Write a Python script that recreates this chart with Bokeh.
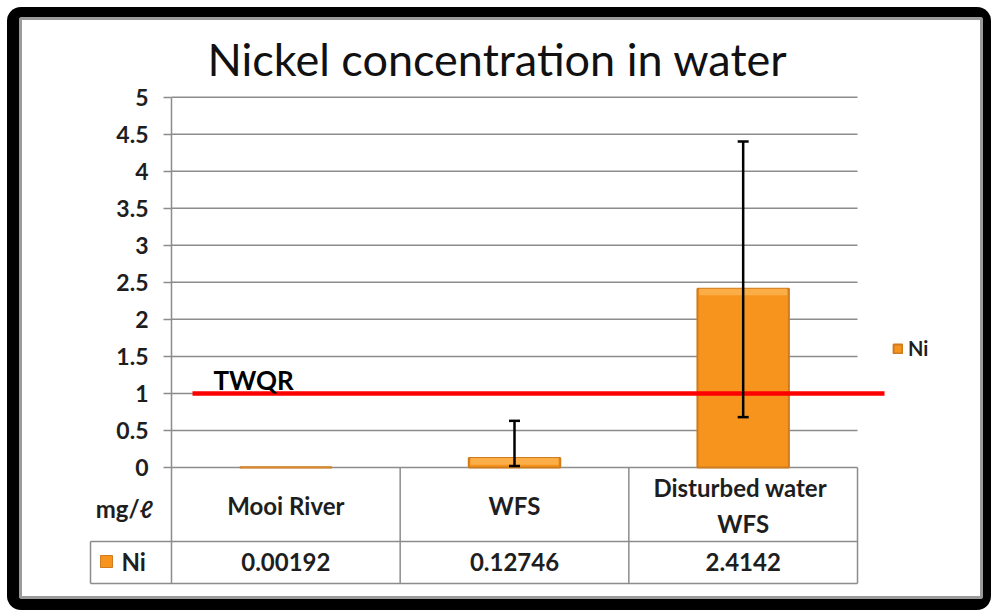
from bokeh.plotting import figure
from bokeh.models import (ColumnDataSource, Range1d, LinearAxis, FixedTicker,
                          Whisker, TeeHead, Legend, LegendItem)
from bokeh.core.properties import value
from bokeh.embed import file_html
from bokeh.resources import INLINE

# ---------------- data ----------------
categories = ["Mooi River", "WFS", "Disturbed  water\nWFS"]
ni_values = [0.00192, 0.12746, 2.4142]
err_upper = [float("nan"), 0.63, 4.40]
err_lower = [float("nan"), 0.02, 0.68]
twqr = 1.0
y_ticks = [0, 0.5, 1, 1.5, 2, 2.5, 3, 3.5, 4, 4.5, 5]
y_tick_labels = ["0", "0.5", "1", "1.5", "2", "2.5", "3", "3.5", "4", "4.5", "5"]
value_labels = ["0.00192", "0.12746", "2.4142"]
series_name = "Ni"
unit_label = "mg/ℓ"
title_text = "Nickel concentration in water"

# ---------------- layout helpers (page px -> data) ----------------
X0, XS = 171.0, 228.67   # page x of category 0 edge, px per category
Y0, YS = 467.0, 74.07    # page y of value 0, px per unit

def dx(px):
    return (px - X0) / XS

def dy(py):
    return (Y0 - py) / YS

FONT = "Lato"
GRAY = "#8c8c8c"
TXT = "#1e1e1e"
BAR = "#F7941D"
BAR_TOP = "#FBAE48"
BAR_EDGE = "#D07C1E"

p = figure(width=993, height=610, output_backend="svg", toolbar_location=None,
           x_axis_type=None, y_axis_type=None,
           x_range=Range1d(dx(20), dx(981)), y_range=Range1d(dy(597), dy(18)),
           min_border_left=20, min_border_right=12, min_border_top=18, min_border_bottom=13,
           border_fill_color="black", background_fill_color="white",
           outline_line_color="#9a9a9a", outline_line_width=3,
           styles={"clip-path": "inset(7px 2px 0px 7px round 14px)"})
p.xgrid.visible = False
p.ygrid.visible = False

n = len(categories)
xs = [i + 0.5 for i in range(n)]

# gridlines (inside the plot area only)
p.segment(x0=[0] * len(y_ticks), x1=[n] * len(y_ticks), y0=y_ticks, y1=y_ticks,
          line_color=GRAY, line_width=1.5)

# y axis
yaxis = LinearAxis(fixed_location=0, bounds=(0, 5), ticker=FixedTicker(ticks=y_ticks),
                   major_label_overrides={t: l for t, l in zip(y_ticks, y_tick_labels)},
                   major_tick_out=8, major_tick_in=0, minor_tick_out=0, minor_tick_in=0,
                   axis_line_color=GRAY, axis_line_width=1.5,
                   major_tick_line_color=GRAY, major_tick_line_width=1.5,
                   major_label_standoff=15,
                   major_label_text_font=FONT, major_label_text_font_size="23px",
                   major_label_text_font_style="bold", major_label_text_color=TXT)
p.add_layout(yaxis, "left")

# bars
src = ColumnDataSource(dict(x=xs, top=ni_values, up=err_upper, lo=err_lower,
                            bevel=[max(0.0, v - 0.09) for v in ni_values],
                            cat=categories, val=value_labels))
bars = p.vbar(x="x", top="top", bottom=0, width=0.4, source=src,
              fill_color=BAR, line_color=BAR_EDGE, line_width=2)
p.vbar(x="x", top="top", bottom="bevel", width=0.385, source=src,
       fill_color=BAR_TOP, line_color=None)

# error bars
p.add_layout(Whisker(source=src, base="x", upper="up", lower="lo", level="overlay",
                     line_color="black", line_width=2.5,
                     upper_head=TeeHead(size=11, line_color="black", line_width=2.5),
                     lower_head=TeeHead(size=11, line_color="black", line_width=2.5)))

# TWQR line
p.segment(x0=[dx(192)], x1=[dx(884)], y0=[twqr], y1=[twqr], line_color="#FF0000", line_width=4.5)
p.text(x=[dx(213)], y=[twqr], text=["TWQR"], text_font=value(FONT), text_font_size="26px",
       text_font_style="bold", text_color="black", text_baseline="bottom", y_offset=3)

# title
p.text(x=[dx(497)], y=[dy(58)], text=[title_text], text_font=value(FONT),
       text_font_size="45px", text_align="center", text_baseline="middle", text_color="#111111")

# data table lines
row1 = dy(541)
row2 = dy(583)
left = dx(90)
p.segment(x0=[left, left], x1=[n, n], y0=[row1, row2], y1=[row1, row2],
          line_color=GRAY, line_width=1.5)
p.segment(x0=[0, 1, 2, 3, left], x1=[0, 1, 2, 3, left],
          y0=[0, 0, 0, 0, row1], y1=[row2, row2, row2, row2, row2],
          line_color=GRAY, line_width=1.5)

# table texts
p.text(x="x", y=dy(505), text="cat", source=src, text_font=value(FONT), text_font_size="24px",
       text_font_style="bold", text_align="center", text_baseline="middle", text_color=TXT,
       text_line_height=1.25)
p.text(x="x", y=dy(561), text="val", source=src, text_font=value(FONT), text_font_size="24px",
       text_font_style="bold", text_align="center", text_baseline="middle", text_color=TXT)
p.text(x=[dx(124)], y=[dy(508)], text=[unit_label], text_font=value(FONT), text_font_size="24px",
       text_font_style="bold", text_align="center", text_baseline="middle", text_color=TXT)
p.scatter(x=[dx(106)], y=[dy(561)], marker="square", size=12, fill_color=BAR, line_color=BAR_EDGE)
p.text(x=[dx(121)], y=[dy(561)], text=[series_name], text_font=value(FONT), text_font_size="24px",
       text_font_style="bold", text_align="left", text_baseline="middle", text_color=TXT)

# legend
legend = Legend(items=[LegendItem(label=series_name, renderers=[bars])],
                location=(872, 237), glyph_width=11, glyph_height=11, label_standoff=5,
                padding=0, margin=0, border_line_color=None, background_fill_alpha=0,
                label_text_font=FONT, label_text_font_size="20px", label_text_font_style="bold",
                label_text_color=TXT)
p.add_layout(legend)

open("out.html", "w").write(file_html(p, INLINE))
